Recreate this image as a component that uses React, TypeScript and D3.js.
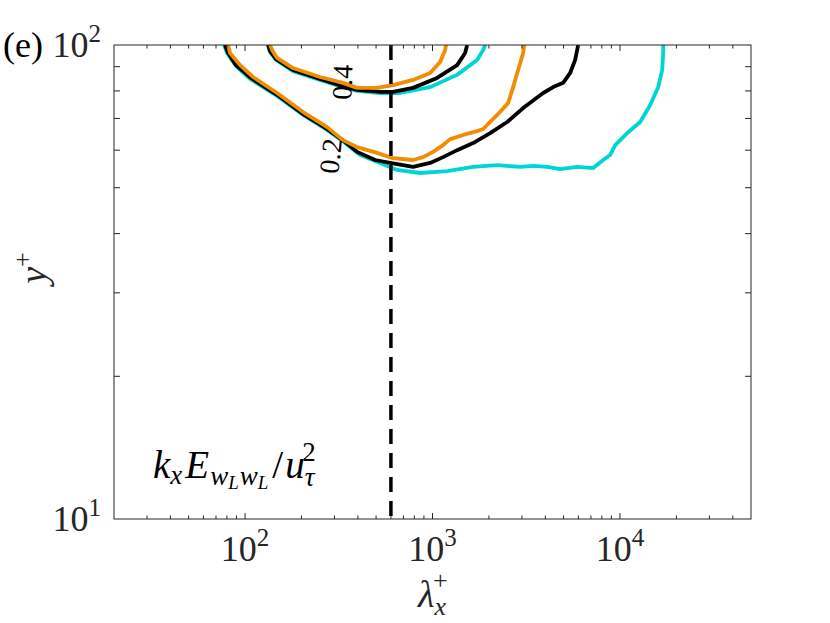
import React from "react";
import * as d3 from "d3";

// lambda_x^+ values and y^+ values for each contour
const cyan02X = [77.3, 80.2, 89.5, 106.3, 148.2, 204, 274, 342, 411, 525, 647, 859, 1197, 1647, 2212, 2934, 3443, 4089, 4797, 5910, 7195, 8136, 8867, 9428, 10927, 12818, 14497, 15993, 16800, 17010, 17010];
const cyan02Y = [100, 96.2, 90.3, 84.8, 78.1, 71.2, 66.2, 62.1, 58.6, 56.4, 54.5, 53.7, 54.2, 55.3, 55.8, 55.3, 55.6, 55.3, 54.7, 55.3, 55.0, 57.2, 58.6, 61.5, 65.2, 68.8, 74.7, 81.5, 88.6, 96.2, 100];
const black02X = [78.2, 81.2, 89.5, 107.7, 148.2, 204, 274, 342, 396, 494, 594, 788, 971, 1139, 1353, 1647, 2030, 2502, 3044, 3894, 4402, 4977, 5424, 5768, 5910, 5984];
const black02Y = [100, 96.2, 90.7, 85.2, 78.5, 71.5, 66.5, 62.4, 59.5, 57.2, 56.4, 55.3, 56.4, 58.0, 60.0, 62.1, 65.2, 68.8, 73.6, 79.2, 81.5, 83.2, 87.3, 93.0, 97.6, 100];
const orange02X = [81.2, 83.2, 94.1, 110.4, 148.2, 204, 274, 333, 396, 506, 616, 788, 891, 1008, 1139, 1242, 1457, 1730, 1863, 2212, 2532, 2693, 2863, 3044, 3083];
const orange02Y = [100, 96.2, 90.7, 85.6, 79.2, 72.2, 67.1, 63.0, 60.9, 59.2, 57.7, 57.2, 58.0, 59.5, 61.5, 63.3, 64.6, 65.8, 66.5, 71.2, 75.4, 81.5, 88.6, 96.2, 100];

const cyan04X = [132.7, 136, 146.4, 180, 251, 333, 396, 525, 672, 971, 1353, 1730, 1863, 1909];
const cyan04Y = [100, 96.6, 93.0, 88.1, 84.4, 81.5, 80.0, 79.2, 79.2, 81.5, 86.5, 93.0, 97.6, 100];
const black04X = [132.7, 136, 146.4, 180, 251, 333, 396, 525, 616, 788, 1058, 1353, 1493, 1530];
const black04Y = [100, 97.1, 93.4, 88.6, 84.8, 81.9, 80.4, 79.6, 79.6, 81.2, 85.2, 90.7, 96.2, 100];
const orange04X = [136, 139.4, 148.2, 180, 251, 333, 396, 506, 616, 788, 971, 1098, 1168, 1182];
const orange04Y = [100, 97.6, 93.9, 89.4, 85.6, 83.2, 81.2, 81.2, 82.3, 84.4, 87.3, 92.1, 97.6, 100];

const xDomain = [20, 50000];
const yDomain = [10, 100];
const xMajorTicks = [100, 1000, 10000];
const xTickExponents = ["2", "3", "4"];
const yMajorTicks = [10, 100];
const yTickExponents = ["1", "2"];
const refLambda = 600;
const contourLevels = ["0.2", "0.4"];
const labelPos02 = [288, 58.3];
const labelPos04 = [333, 83.5];

const ORANGE = "#F28C00";
const CYAN = "#00D5D5";
const BLACK = "#000000";
const AXIS = "#262626";
const FONT = "'Liberation Serif', 'DejaVu Serif', serif";

export default function App() {
  const left = 114, right = 751, top = 45, bottom = 519;
  const x = d3.scaleLog().domain(xDomain).range([left, right]);
  const y = d3.scaleLog().domain(yDomain).range([bottom, top]);

  const mk = (xs: number[], ys: number[]) =>
    d3.line<number>().x((d, i) => x(xs[i])).y((d, i) => y(ys[i]))(xs) || "";

  const curves = [
    { xs: cyan02X, ys: cyan02Y, c: CYAN },
    { xs: cyan04X, ys: cyan04Y, c: CYAN },
    { xs: black02X, ys: black02Y, c: BLACK },
    { xs: black04X, ys: black04Y, c: BLACK },
    { xs: orange02X, ys: orange02Y, c: ORANGE },
    { xs: orange04X, ys: orange04Y, c: ORANGE },
  ];

  const xMinor: number[] = [];
  for (let e = 1; e <= 4; e++) for (let m = 2; m <= 9; m++) {
    const v = m * Math.pow(10, e);
    if (v > xDomain[0] && v < xDomain[1]) xMinor.push(v);
  }
  const yMinor: number[] = [];
  for (let m = 2; m <= 9; m++) yMinor.push(m * 10);

  const majLen = 6, minLen = 3.5;

  return (
    <svg width={830} height={623} style={{ position: "absolute", left: 0, top: 0, background: "#fff" }}>
      <rect x={0} y={0} width={830} height={623} fill="#fff" />
      <defs>
        <clipPath id="plotclip">
          <rect x={left} y={top} width={right - left} height={bottom - top} />
        </clipPath>
      </defs>
      <g clipPath="url(#plotclip)">
        {curves.map((c, i) => (
          <path key={i} d={mk(c.xs, c.ys)} fill="none" stroke={c.c} strokeWidth={3.8} strokeLinejoin="round" />
        ))}
        <line x1={x(refLambda)} x2={x(refLambda)} y1={top} y2={bottom} stroke="#000" strokeWidth={3.5} strokeDasharray="15,9" />
      </g>
      {/* ticks */}
      <g stroke={AXIS} strokeWidth={1}>
        {xMajorTicks.map((t) => (
          <g key={"xm" + t}>
            <line x1={x(t)} x2={x(t)} y1={bottom} y2={bottom - majLen} />
            <line x1={x(t)} x2={x(t)} y1={top} y2={top + majLen} />
          </g>
        ))}
        {xMinor.map((t) => (
          <g key={"xn" + t}>
            <line x1={x(t)} x2={x(t)} y1={bottom} y2={bottom - minLen} />
            <line x1={x(t)} x2={x(t)} y1={top} y2={top + minLen} />
          </g>
        ))}
        {yMinor.map((t) => (
          <g key={"yn" + t}>
            <line x1={left} x2={left + majLen} y1={y(t)} y2={y(t)} />
            <line x1={right} x2={right - majLen} y1={y(t)} y2={y(t)} />
          </g>
        ))}
        <rect x={left} y={top} width={right - left} height={bottom - top} fill="none" />
      </g>
      {/* x tick labels */}
      {xMajorTicks.map((t, i) => (
        <text key={"xl" + t} x={x(t)} y={561} fontFamily={FONT} fontSize={36} textAnchor="middle" fill={AXIS}>
          <tspan>10</tspan>
          <tspan fontSize={25} dy={-15}>{xTickExponents[i]}</tspan>
        </text>
      ))}
      {yMajorTicks.map((t, i) => (
        <text key={"yl" + t} x={101} y={y(t) + 12} fontFamily={FONT} fontSize={36} textAnchor="end" fill={AXIS}>
          <tspan>10</tspan>
          <tspan fontSize={25} dy={-15}>{yTickExponents[i]}</tspan>
        </text>
      ))}
      {/* panel label */}
      <text x={3} y={57} fontFamily={FONT} fontSize={36} fill="#000">(e)</text>
      {/* axis labels */}
      <text x={418} y={607} fontFamily={FONT} fontSize={38} fill={AXIS}>
        <tspan fontStyle="italic">λ</tspan>
        <tspan fontSize={26} fontStyle="italic" dy={8}>x</tspan>
        <tspan fontSize={26} dx={-13} dy={-26}>+</tspan>
      </text>
      <text transform="translate(46,268) rotate(-90)" fontFamily={FONT} fontSize={38} fill={AXIS} textAnchor="middle">
        <tspan fontStyle="italic">y</tspan>
        <tspan fontSize={26} dy={-15}>+</tspan>
      </text>
      {/* contour labels */}
      <text transform={`translate(${x(labelPos04[0])},${y(labelPos04[1])}) rotate(-88)`} fontFamily={FONT} fontSize={28} textAnchor="middle" dy={9} fill="#000">
        {contourLevels[1]}
      </text>
      <text transform={`translate(${x(labelPos02[0])},${y(labelPos02[1])}) rotate(-84)`} fontFamily={FONT} fontSize={28} textAnchor="middle" dy={9} fill="#000">
        {contourLevels[0]}
      </text>
      {/* annotation */}
      <text x={153} y={478} fontFamily={FONT} fontSize={39} fontStyle="italic" fill="#000">
        <tspan>k</tspan>
        <tspan fontSize={27} dy={6}>x</tspan>
        <tspan dx={3} dy={-6}>E</tspan>
        <tspan fontSize={27} dx={1} dy={7}>w</tspan>
        <tspan fontSize={19} dy={4}>L</tspan>
        <tspan fontSize={27} dx={1} dy={-4}>w</tspan>
        <tspan fontSize={19} dy={4}>L</tspan>
        <tspan fontStyle="normal" dx={4} dy={-11}>/</tspan>
        <tspan dx={2}>u</tspan>
        <tspan fontSize={27} dy={8}>τ</tspan>
        <tspan fontSize={27} fontStyle="normal" dx={-12} dy={-25}>2</tspan>
      </text>
    </svg>
  );
}
